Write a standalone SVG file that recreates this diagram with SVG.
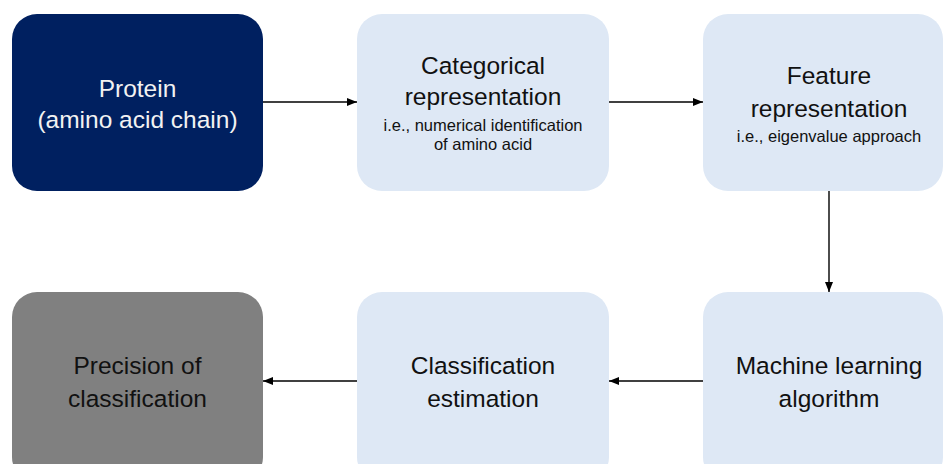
<svg xmlns="http://www.w3.org/2000/svg" width="945" height="464" viewBox="0 0 945 464">
<style>
.box{stroke:none}
.navy{fill:#002060}
.light{fill:#dee8f5}
.gray{fill:#808080}
.t{font-family:"Liberation Sans",Arial,sans-serif;font-size:24.5px;text-anchor:middle;fill:#111111}
.w{fill:#f2f2f2}
.s{font-family:"Liberation Sans",Arial,sans-serif;font-size:16.5px;text-anchor:middle;fill:#111111}
.c{stroke:#000;stroke-width:1.4;fill:none;marker-end:url(#ah)}
</style>
<defs>
<marker id="ah" viewBox="0 0 10 8" refX="10" refY="4" markerWidth="10" markerHeight="8" markerUnits="userSpaceOnUse" orient="auto">
<path d="M0,0 L10,4 L0,8 Z" fill="#000"/>
</marker>
</defs>
<rect width="945" height="464" fill="#ffffff"/>
<g id="connectors">
<line class="c" x1="263" y1="102" x2="357" y2="102"/>
<line class="c" x1="609" y1="102" x2="703" y2="102"/>
<line class="c" x1="829" y1="191" x2="829" y2="292"/>
<line class="c" x1="703" y1="381" x2="609" y2="381"/>
<line class="c" x1="357" y1="381" x2="263" y2="381"/>
</g>
<g id="protein">
<rect class="box navy" x="12" y="14" width="251" height="177" rx="25"/>
<text class="t w" x="137.5" y="97">Protein</text>
<text class="t w" x="137.5" y="128">(amino acid chain)</text>
</g>
<g id="categorical">
<rect class="box light" x="357" y="14" width="252" height="177" rx="25"/>
<text class="t" x="483" y="74">Categorical</text>
<text class="t" x="483" y="105">representation</text>
<text class="s" x="483" y="131">i.e., numerical identification</text>
<text class="s" x="483" y="150">of amino acid</text>
</g>
<g id="feature">
<rect class="box light" x="703" y="14" width="240" height="177" rx="25"/>
<text class="t" x="829" y="84">Feature</text>
<text class="t" x="829" y="117">representation</text>
<text class="s" x="829" y="142">i.e., eigenvalue approach</text>
</g>
<g id="machine">
<rect class="box light" x="703" y="292" width="240" height="190" rx="25"/>
<text class="t" x="829" y="374">Machine learning</text>
<text class="t" x="829" y="407">algorithm</text>
</g>
<g id="estimation">
<rect class="box light" x="357" y="292" width="252" height="190" rx="25"/>
<text class="t" x="483" y="374">Classification</text>
<text class="t" x="483" y="407">estimation</text>
</g>
<g id="precision">
<rect class="box gray" x="12" y="292" width="251" height="190" rx="25"/>
<text class="t" x="137.5" y="374">Precision of</text>
<text class="t" x="137.5" y="407">classification</text>
</g>
</svg>
